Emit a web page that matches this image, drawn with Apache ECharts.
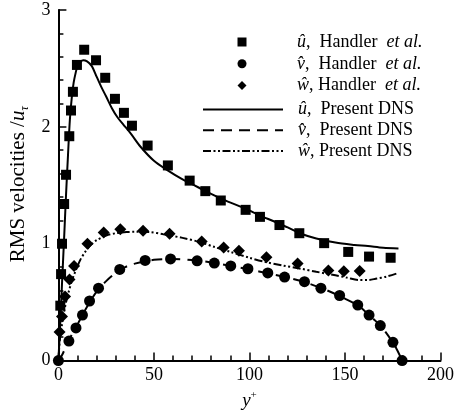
<!DOCTYPE html>
<html><head><meta charset="utf-8">
<script src="https://cdn.jsdelivr.net/npm/echarts@6/dist/echarts.min.js"></script>
<style>html,body{margin:0;padding:0;background:#fff}#c{width:457px;height:415px}</style>
</head><body><div id="c"></div>
<script>
// ---- data (y+, RMS value) ----
const xTicks = [0, 50, 100, 150, 200];
const yTicks = [0, 1, 2, 3];

const uHandler = [[1.0,0.47],[1.4,0.74],[1.9,1.0],[3.0,1.34],[4.0,1.59],[5.7,1.92],[6.6,2.14],[7.6,2.30],[9.7,2.53],[13.5,2.66],[19.7,2.57],[24.5,2.42],[29.6,2.24],[34.3,2.12],[38.5,2.01],[46.7,1.84],[57.3,1.67],[68.7,1.54],[76.9,1.45],[85.0,1.37],[98.0,1.29],[105.5,1.23],[115.7,1.16],[126.1,1.09],[139.1,1.005],[151.7,0.93],[162.6,0.89],[173.9,0.88]];
const vHandler = [[0,0],[5.5,0.167],[9.2,0.28],[12.6,0.39],[16.3,0.51],[21,0.62],[32.1,0.78],[45.4,0.857],[58.7,0.87],[72.6,0.854],[81.6,0.835],[90.2,0.81],[99.2,0.786],[109.6,0.75],[118.4,0.715],[128.8,0.675],[137.4,0.62],[147.2,0.557],[156.7,0.475],[162.6,0.39],[168.5,0.30],[175.1,0.156],[179.9,0]];
const wHandler = [[0.6,0.245],[1.9,0.378],[3.5,0.548],[5.8,0.693],[8.2,0.81],[15.2,1.0],[23.7,1.097],[32.4,1.125],[44.3,1.112],[58.2,1.085],[75,1.02],[86.5,0.968],[94.5,0.94],[108.9,0.885],[125.2,0.83],[141.3,0.77],[149.4,0.765],[157.7,0.767]];

const uDNS = [[0,0],[1,0.33],[2,0.7],[3,1.05],[4,1.42],[5,1.75],[6,2.06],[7,2.25],[8,2.38],[9,2.46],[10,2.52],[11.5,2.555],[13,2.57],[15,2.56],[17.5,2.52],[20,2.43],[22.5,2.34],[25,2.26],[28,2.16],[31,2.08],[34,2.02],[38,1.94],[43,1.83],[50,1.71],[57,1.63],[65,1.55],[70,1.51],[77,1.45],[86,1.38],[98,1.30],[105,1.245],[113,1.19],[120,1.14],[127,1.085],[135,1.045],[145,1.01],[155,0.99],[162,0.98],[170,0.965],[178,0.96]];
const vDNS = [[0,0],[2,0.05],[5,0.16],[10,0.31],[15,0.46],[20,0.59],[25,0.68],[30,0.75],[35,0.8],[40,0.83],[50,0.862],[60,0.87],[70,0.86],[80,0.84],[90,0.81],[100,0.78],[110,0.745],[120,0.71],[130,0.665],[140,0.605],[150,0.53],[157,0.47],[162,0.4],[166,0.34],[170,0.27],[174,0.18],[177,0.1],[180,0]];
const wDNS = [[0,0],[0.5,0.13],[1,0.21],[2,0.32],[2.8,0.4],[4,0.5],[5.4,0.59],[7,0.68],[8.8,0.76],[11.4,0.86],[14,0.93],[17,0.99],[20,1.03],[25,1.07],[30,1.09],[35.7,1.10],[40,1.102],[47.8,1.10],[55,1.08],[65,1.05],[75,1.01],[82,0.97],[90,0.93],[100,0.88],[108,0.845],[117,0.815],[127,0.786],[135,0.76],[145,0.73],[151,0.71],[157,0.69],[162,0.69],[166,0.70],[172,0.72],[178,0.75]];

const legendText = {
  uH: '{h|\u00fb}{n|,  Handler  }{i|et al.}',
  vH: '{h|v\u0302}{n|,  Handler  }{i|et al.}',
  wH: '{h|\u0175}{n|, Handler  }{i|et al.}',
  uD: '{h|\u00fb}{n|,  Present DNS}',
  vD: '{h|v\u0302}{n|,  Present DNS}',
  wD: '{h|\u0175}{n|, Present DNS}'
};

const FONT = '"Liberation Serif","Times New Roman",serif';
const chart = echarts.init(document.getElementById('c'), null, {renderer: 'canvas'});

const axisCommon = {
  axisLine: {show: true, lineStyle: {color: '#000', width: 2}},
  axisTick: {show: true, inside: true, length: 8, lineStyle: {color: '#000', width: 1.5}},
  minorTick: {show: true, splitNumber: 5, length: 5, lineStyle: {color: '#000', width: 1.5}},
  splitLine: {show: false},
  axisLabel: {color: '#000', fontFamily: FONT, fontSize: 18}
};

function legendRich(padLeft) {
  return {
    color: '#000', fontFamily: FONT, fontSize: 18,
    rich: {
      h: {fontFamily: FONT, fontStyle: 'italic', fontSize: 18, lineHeight: 20, color: '#000', padding: [0, 0, 0, padLeft]},
      n: {fontFamily: FONT, fontSize: 18, lineHeight: 20, color: '#000'},
      i: {fontFamily: FONT, fontStyle: 'italic', fontSize: 18, lineHeight: 20, color: '#000'}
    }
  };
}

chart.setOption({
  animation: false,
  backgroundColor: '#fff',
  grid: {left: 58, right: 14, top: 10, bottom: 53, containLabel: false},
  legend: [
    {
      orient: 'vertical', left: 232.5, top: 28,
      itemWidth: 9, itemHeight: 9, itemGap: 3.8,
      selectedMode: false, symbolKeepAspect: true,
      data: [
        {name: 'uH', icon: 'rect'},
        {name: 'vH', icon: 'circle'},
        {name: 'wH', icon: 'diamond'}
      ],
      formatter: n => legendText[n],
      textStyle: legendRich(45.5)
    },
    {
      orient: 'vertical', left: 197, top: 95.4,
      itemWidth: 80, itemHeight: 9, itemGap: 2.8,
      selectedMode: false,
      itemStyle: {opacity: 0},
      data: [{name: 'uD'}, {name: 'vD'}, {name: 'wD'}],
      formatter: n => legendText[n],
      textStyle: legendRich(10)
    }
  ],
  xAxis: Object.assign({}, axisCommon, {
    type: 'value',
    min: xTicks[0], max: xTicks[xTicks.length - 1], interval: xTicks[1] - xTicks[0],
    axisLabel: Object.assign({}, axisCommon.axisLabel, {margin: 6}),
    name: '{i|y}{s|+}',
    nameLocation: 'middle', nameGap: 11,
    nameTextStyle: {
      color: '#000', fontFamily: FONT, fontSize: 18,
      rich: {
        i: {fontFamily: FONT, fontStyle: 'italic', fontSize: 19, lineHeight: 22, color: '#000'},
        s: {fontFamily: FONT, fontSize: 11, lineHeight: 12, verticalAlign: 'top', color: '#000'}
      }
    }
  }),
  yAxis: Object.assign({}, axisCommon, {
    type: 'value',
    min: yTicks[0], max: yTicks[yTicks.length - 1], interval: yTicks[1] - yTicks[0],
    axisLabel: Object.assign({}, axisCommon.axisLabel, {margin: 8}),
    name: '{n|RMS velocities /}{i|u}{s|\u03c4}',
    nameLocation: 'middle', nameGap: 20,
    nameTextStyle: {
      color: '#000', fontFamily: FONT, fontSize: 21,
      rich: {
        n: {fontFamily: FONT, fontSize: 21, lineHeight: 24, color: '#000', padding: [0, 0, 0, 2]},
        i: {fontFamily: FONT, fontStyle: 'italic', fontSize: 21, lineHeight: 24, color: '#000'},
        s: {fontFamily: FONT, fontStyle: 'italic', fontSize: 12, lineHeight: 13, verticalAlign: 'bottom', color: '#000'}
      }
    }
  }),
  series: [
    {name: 'uD', type: 'line', data: uDNS, symbol: 'none', symbolSize: 0, smooth: 0.3, silent: true,
     lineStyle: {color: '#000', width: 2, type: 'solid'}, itemStyle: {color: '#000'}},
    {name: 'vD', type: 'line', data: vDNS, symbol: 'none', symbolSize: 0, smooth: 0.3, silent: true,
     lineStyle: {color: '#000', width: 2, type: [11, 7]}, itemStyle: {color: '#000'}},
    {name: 'wD', type: 'line', data: wDNS, symbol: 'none', symbolSize: 0, smooth: 0.3, silent: true,
     lineStyle: {color: '#000', width: 2, type: [8, 2.5, 2, 2.5, 2, 2.5]}, itemStyle: {color: '#000'}},
    {name: 'uH', type: 'scatter', data: uHandler, symbol: 'rect', symbolSize: 10, silent: true,
     itemStyle: {color: '#000', opacity: 1}},
    {name: 'vH', type: 'scatter', data: vHandler, symbol: 'circle', symbolSize: 11, silent: true,
     itemStyle: {color: '#000', opacity: 1}},
    {name: 'wH', type: 'scatter', data: wHandler, symbol: 'diamond', symbolSize: 12, silent: true,
     itemStyle: {color: '#000', opacity: 1}}
  ]
});
</script>
</body></html>
